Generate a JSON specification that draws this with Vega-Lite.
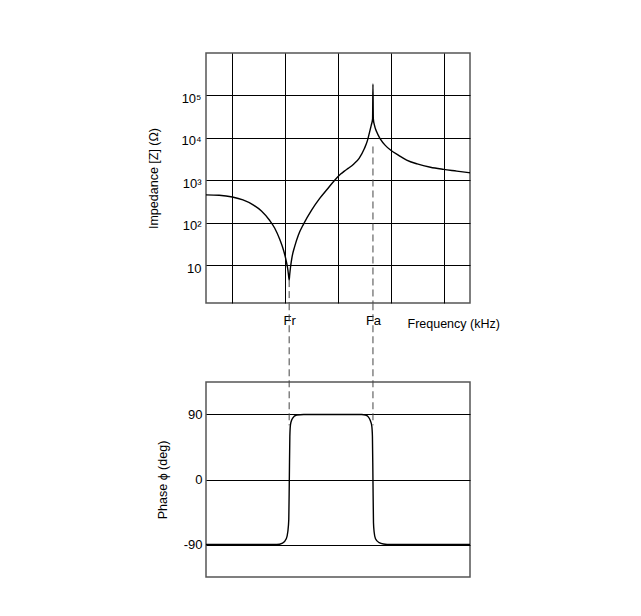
{
  "$schema": "https://vega.github.io/schema/vega-lite/v6.json",
  "background": "white",
  "padding": {"left": 147, "top": 52, "right": 5, "bottom": 5},
  "bounds": "flush",
  "spacing": 79,
  "config": {
    "font": "Liberation Sans",
    "view": {"stroke": "#555", "strokeWidth": 1.5},
    "axis": {
      "labelFont": "Liberation Sans", "labelFontSize": 13, "labelColor": "black",
      "titleFont": "Liberation Sans", "titleFontSize": 12.5, "titleFontWeight": "normal", "titleColor": "black",
      "ticks": false, "tickSize": 0, "domain": false,
      "gridColor": "black", "gridWidth": 1, "gridOpacity": 1
    }
  },
  "datasets": {
    "impedance": [
      {"freq": 0.5, "impedance": 457},
      {"freq": 0.75, "impedance": 447},
      {"freq": 1.0, "impedance": 407},
      {"freq": 1.2, "impedance": 347},
      {"freq": 1.4, "impedance": 263},
      {"freq": 1.55, "impedance": 191},
      {"freq": 1.7, "impedance": 117},
      {"freq": 1.8, "impedance": 76},
      {"freq": 1.9, "impedance": 40},
      {"freq": 1.97, "impedance": 22.4},
      {"freq": 2.02, "impedance": 12.6},
      {"freq": 2.05, "impedance": 7.9},
      {"freq": 2.065, "impedance": 5.6},
      {"freq": 2.075, "impedance": 4.5},
      {"freq": 2.085, "impedance": 6.0},
      {"freq": 2.1, "impedance": 8.9},
      {"freq": 2.13, "impedance": 15.8},
      {"freq": 2.18, "impedance": 28},
      {"freq": 2.25, "impedance": 52},
      {"freq": 2.35, "impedance": 95},
      {"freq": 2.5, "impedance": 200},
      {"freq": 2.65, "impedance": 372},
      {"freq": 2.8, "impedance": 630},
      {"freq": 2.95, "impedance": 1050},
      {"freq": 3.05, "impedance": 1410},
      {"freq": 3.12, "impedance": 1660},
      {"freq": 3.2, "impedance": 1950},
      {"freq": 3.3, "impedance": 2450},
      {"freq": 3.4, "impedance": 3310},
      {"freq": 3.5, "impedance": 5620},
      {"freq": 3.56, "impedance": 8900},
      {"freq": 3.6, "impedance": 14100},
      {"freq": 3.63, "impedance": 20000},
      {"freq": 3.655, "impedance": 28200},
      {"freq": 3.662, "impedance": 186000},
      {"freq": 3.669, "impedance": 28200},
      {"freq": 3.69, "impedance": 20000},
      {"freq": 3.73, "impedance": 14100},
      {"freq": 3.8, "impedance": 9550},
      {"freq": 3.9, "impedance": 6600},
      {"freq": 4.0, "impedance": 5130},
      {"freq": 4.15, "impedance": 3890},
      {"freq": 4.3, "impedance": 3020},
      {"freq": 4.5, "impedance": 2450},
      {"freq": 4.75, "impedance": 2040},
      {"freq": 5.0, "impedance": 1820},
      {"freq": 5.25, "impedance": 1660},
      {"freq": 5.5, "impedance": 1510}
    ],
    "phase": [
      {"freq": 0.5, "phase": -90},
      {"freq": 1.5, "phase": -90},
      {"freq": 1.84, "phase": -90},
      {"freq": 1.95, "phase": -88},
      {"freq": 2.02, "phase": -82},
      {"freq": 2.05, "phase": -72},
      {"freq": 2.068, "phase": -55},
      {"freq": 2.078, "phase": 0},
      {"freq": 2.088, "phase": 60},
      {"freq": 2.1, "phase": 76},
      {"freq": 2.127, "phase": 83},
      {"freq": 2.17, "phase": 87.5},
      {"freq": 2.22, "phase": 89.3},
      {"freq": 2.35, "phase": 90},
      {"freq": 3.45, "phase": 90},
      {"freq": 3.52, "phase": 89.3},
      {"freq": 3.57, "phase": 87},
      {"freq": 3.61, "phase": 82},
      {"freq": 3.64, "phase": 74},
      {"freq": 3.652, "phase": 60},
      {"freq": 3.662, "phase": 0},
      {"freq": 3.672, "phase": -60},
      {"freq": 3.685, "phase": -73},
      {"freq": 3.71, "phase": -82},
      {"freq": 3.78, "phase": -87.5},
      {"freq": 3.86, "phase": -89.3},
      {"freq": 4.0, "phase": -90},
      {"freq": 5.5, "phase": -90}
    ],
    "markersTop": [
      {"freq": 2.075, "impedance": 4.5, "impedanceEnd": 1.3},
      {"freq": 3.662, "impedance": 6300, "impedanceEnd": 1.3}
    ],
    "markersBottom": [
      {"freq": 2.075, "phase": 244, "phaseEnd": 75},
      {"freq": 3.662, "phase": 244, "phaseEnd": 75}
    ]
  },
  "vconcat": [
    {
      "width": 264,
      "height": 250,
      "layer": [
        {
          "data": {"name": "impedance"},
          "mark": {"type": "line", "color": "black", "strokeWidth": 1.4, "interpolate": "monotone"},
          "encoding": {
            "x": {
              "field": "freq", "type": "quantitative",
              "scale": {"domain": [0.5, 5.5], "nice": false, "zero": false},
              "axis": {
                "values": [1, 2, 2.075, 3, 3.662, 4, 5],
                "grid": true,
                "gridOpacity": {"condition": {"test": "abs(datum.value - 2.075) < 0.001 || abs(datum.value - 3.662) < 0.001", "value": 0}, "value": 1},
                "labelExpr": "abs(datum.value - 2.075) < 0.001 ? 'Fr' : (abs(datum.value - 3.662) < 0.001 ? 'Fa' : '')",
                "labelOverlap": false, "labelFlush": false, "labelPadding": 11,
                "title": "Frequency (kHz)", "titleAnchor": "start", "titleAlign": "left",
                "titleX": 201, "titleY": 24, "titleBaseline": "alphabetic"
              }
            },
            "y": {
              "field": "impedance", "type": "quantitative",
              "scale": {"type": "log", "domain": [1.3, 1000000], "nice": false},
              "axis": {
                "values": [10, 100, 1000, 10000, 100000],
                "grid": true,
                "labelExpr": "datum.value == 10 ? '10' : datum.value == 100 ? '10²' : datum.value == 1000 ? '10³' : datum.value == 10000 ? '10⁴' : '10⁵'",
                "labelPadding": 5, "labelOffset": 3,
                "title": "Impedance [Z] (Ω)", "titlePadding": 20
              }
            }
          }
        },
        {
          "data": {"name": "markersTop"},
          "mark": {"type": "rule", "color": "#444", "strokeWidth": 1, "strokeDash": [7, 4]},
          "encoding": {
            "x": {"field": "freq", "type": "quantitative"},
            "y": {"field": "impedance", "type": "quantitative"},
            "y2": {"field": "impedanceEnd"}
          }
        }
      ]
    },
    {
      "width": 264,
      "height": 195,
      "layer": [
        {
          "data": {"name": "phase"},
          "mark": {"type": "line", "color": "black", "strokeWidth": 1.4, "interpolate": "monotone"},
          "encoding": {
            "x": {
              "field": "freq", "type": "quantitative",
              "scale": {"domain": [0.5, 5.5], "nice": false, "zero": false},
              "axis": null
            },
            "y": {
              "field": "phase", "type": "quantitative",
              "scale": {"domain": [-135, 135], "nice": false, "zero": false},
              "axis": {
                "values": [-90, 0, 90],
                "grid": true,
                "labelExpr": "'' + datum.value",
                "labelPadding": 4,
                "title": "Phase ϕ (deg)", "titlePadding": 14
              }
            }
          }
        },
        {
          "data": {"name": "markersBottom"},
          "mark": {"type": "rule", "color": "#444", "strokeWidth": 1, "strokeDash": [7, 4]},
          "encoding": {
            "x": {"field": "freq", "type": "quantitative"},
            "y": {"field": "phase", "type": "quantitative"},
            "y2": {"field": "phaseEnd"}
          }
        }
      ]
    }
  ]
}
